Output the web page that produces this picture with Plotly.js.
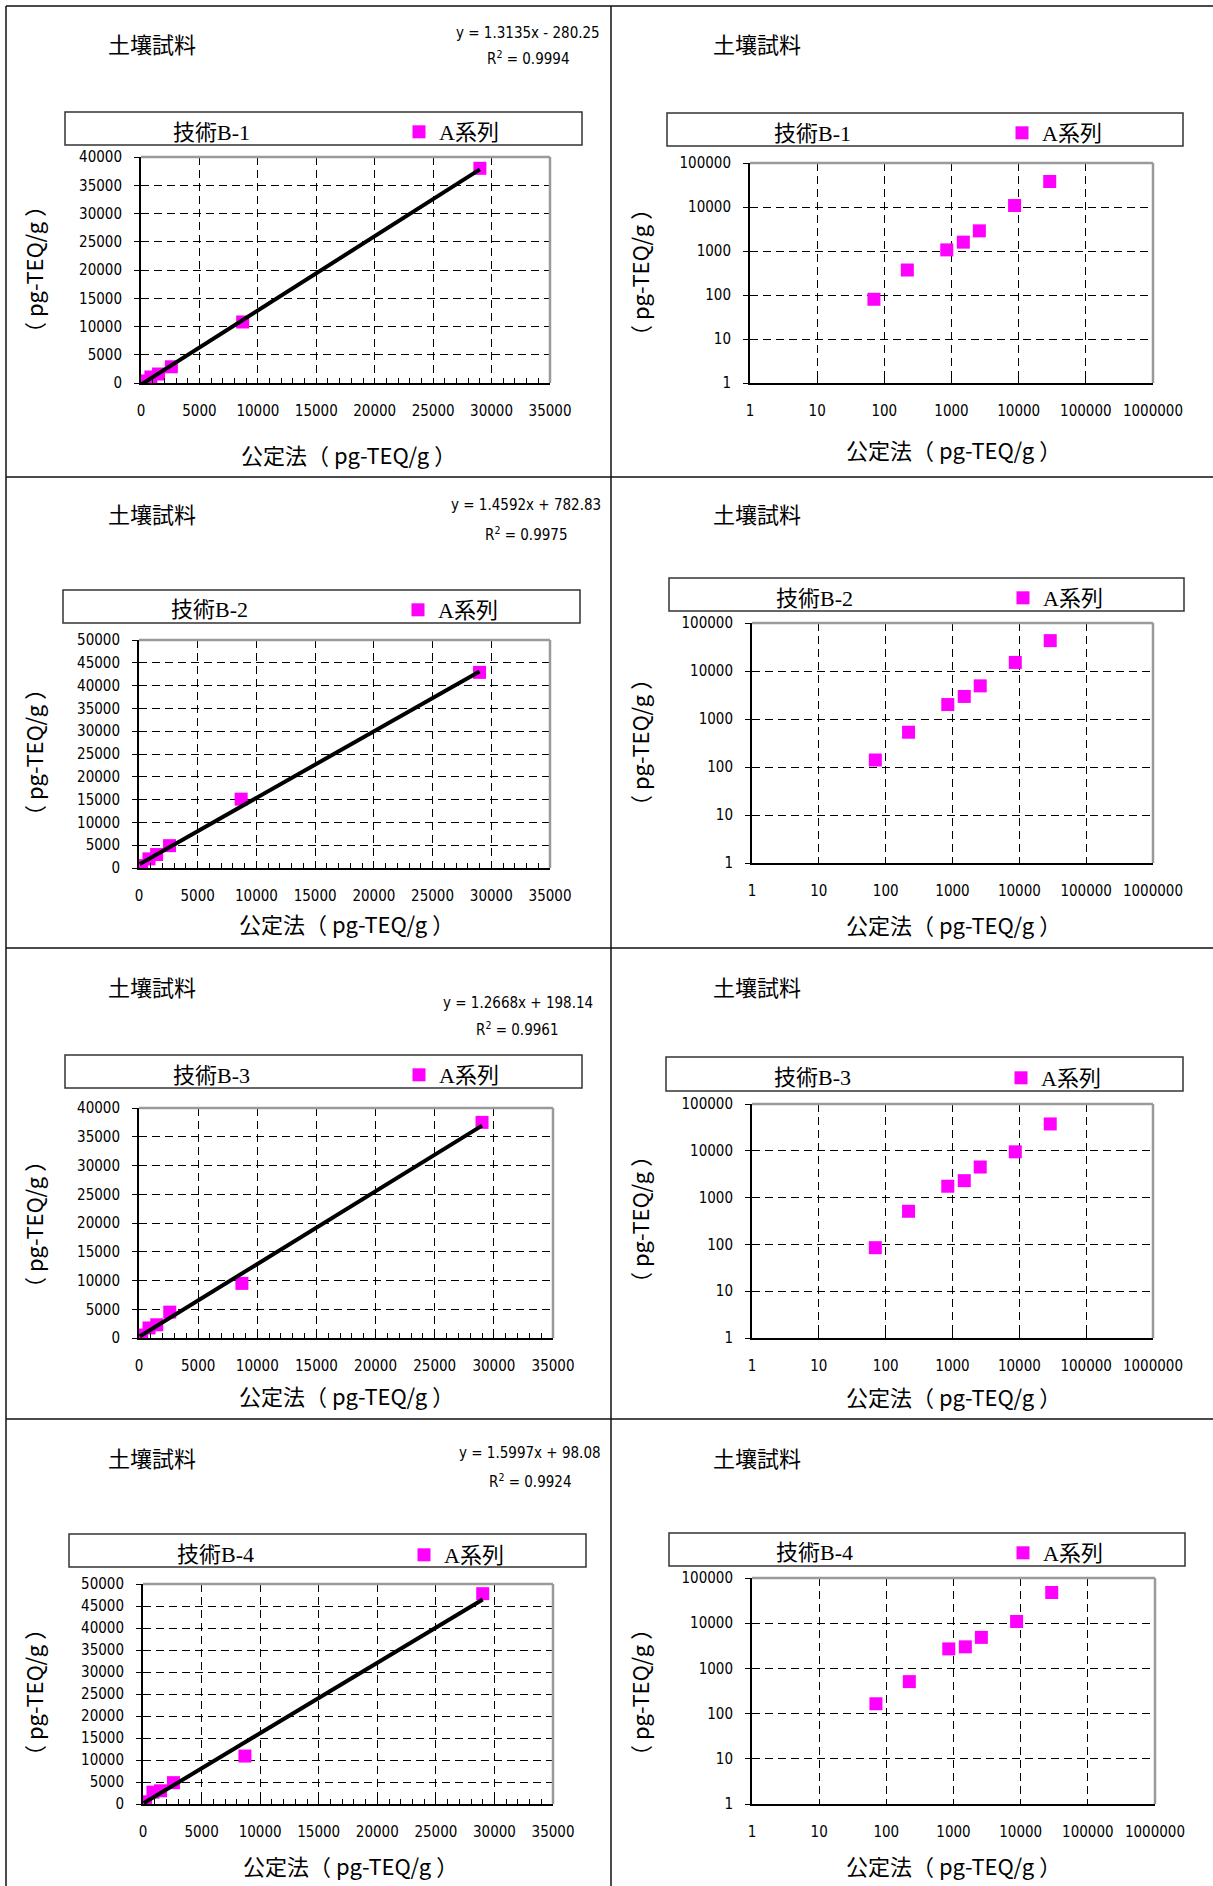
<!DOCTYPE html>
<html><head><meta charset="utf-8">
<script src="https://cdn.plot.ly/plotly-3.0.1.min.js"></script>
<style>html,body{margin:0;padding:0;background:#fff}#chart{width:1213px;height:1886px}</style>
</head><body><div id="chart"></div>
<script>
// ---------------- data ----------------
const techLabels = ['技術B-1', '技術B-2', '技術B-3', '技術B-4'];
const sampleLabel = '土壤試料';
const seriesName = 'A系列';
const xTitleText = '公定法（ pg-TEQ/g ）';
const yTitleText = '（ pg-TEQ/g ）';
const xPublic = [70, 220, 850, 1500, 2600, 8700, 29000];
const yB1 = [80, 370, 1060, 1590, 2870, 10800, 38000];
const yB2 = [140, 530, 2000, 2950, 4900, 15100, 42900];
const yB3 = [85, 510, 1750, 2300, 4500, 9500, 37500];
const yB4 = [165, 510, 2700, 3000, 4850, 10900, 47800];
const slopes = [1.3135, 1.4592, 1.2668, 1.5997];
const intercepts = [-280.25, 782.83, 198.14, 98.08];
const r2Values = ['0.9994', '0.9975', '0.9961', '0.9924'];
const linYMax = [40000, 50000, 40000, 50000];
const linXMax = 35000;
const linTickStep = 5000;
const logXRange = [0, 6];
const logYRange = [0, 5];
const ySeries = [yB1, yB2, yB3, yB4];

// ---------------- layout geometry (pixels) ----------------
const W = 1213, H = 1886;
const G = [
 {plot:[141,550,157,383], samp:[152,43],  eq:[528,33],  r2:[528,58],  box:[65,582,112,145],  tech:[211,132],  mk:[423,132],  xt:[348,454],  yt:[33,270]},
 {plot:[750,1153,163,383], samp:[757,43], box:[667,1183,113,146], tech:[813,133], mk:[1026,133], xt:[953,449], yt:[639,273]},
 {plot:[139,550,640,868], samp:[152,513], eq:[526,505], r2:[526,534], box:[63,580,590,623], tech:[209,610], mk:[422,610], xt:[347,923], yt:[33,753]},
 {plot:[752,1153,623,863], samp:[757,513], box:[669,1184,578,611], tech:[814,598], mk:[1027,598], xt:[953,924], yt:[639,743]},
 {plot:[139,553,1108,1338], samp:[152,986], eq:[518,1003], r2:[517,1029], box:[65,582,1055,1088], tech:[211,1075], mk:[423,1075], xt:[347,1395], yt:[33,1225]},
 {plot:[752,1153,1104,1338], samp:[757,986], box:[666,1183,1057,1091], tech:[812,1077], mk:[1025,1078], xt:[953,1396], yt:[639,1220]},
 {plot:[143,553,1584,1804], samp:[152,1457], eq:[530,1453], r2:[530,1481], box:[69,586,1534,1567], tech:[215,1554], mk:[428,1555], xt:[351,1865], yt:[33,1693]},
 {plot:[752,1155,1578,1804], samp:[757,1457], box:[669,1185,1533,1566], tech:[814,1552], mk:[1027,1553], xt:[953,1865], yt:[639,1693]}
];
const px = x => x / W;
const py = y => 1 - y / H;

const narrow = '"DejaVu Sans Condensed", "Liberation Sans Narrow", sans-serif';
const gothic = '"Noto Sans CJK JP", "Noto Sans", sans-serif';
const serif = '"Liberation Serif", "Noto Sans CJK JP", serif';
const magenta = '#FF00FF';

const traces = [];
const layout = {
  width: W, height: H,
  margin: {l:0, r:0, t:0, b:0},
  paper_bgcolor: '#fff', plot_bgcolor: '#fff',
  showlegend: true,
  annotations: [], shapes: []
};

// outer borders
const bw = 1.5, bc = '#111';
[[6,6,6,H],[6,6,W,6],[611,6,611,H],[6,477,W,477],[6,948,W,948],[6,1419,W,1419]].forEach(s => {
  layout.shapes.push({type:'line', xref:'paper', yref:'paper', x0:px(s[0]), y0:py(s[1]), x1:px(s[2]), y1:py(s[3]), line:{color:bc, width:bw}});
});

for (let i = 0; i < 8; i++) {
  const g = G[i];
  const tech = Math.floor(i / 2);
  const isLog = (i % 2) === 1;
  const n = i + 1;
  const xa = 'xaxis' + (n === 1 ? '' : n), ya = 'yaxis' + (n === 1 ? '' : n);
  const xr = 'x' + (n === 1 ? '' : n), yr = 'y' + (n === 1 ? '' : n);
  const lg = 'legend' + (n === 1 ? '' : n);
  const [L, R, T, B] = g.plot;

  const common = {
    showgrid: true, gridcolor: '#000', gridwidth: 1, griddash: '8px,5px',
    zeroline: false, showline: true, linecolor: '#000', linewidth: 2,
    tickfont: {family: narrow, size: 15, color: '#000'},
    tickformat: 'd', tickcolor: '#000', fixedrange: true
  };
  layout[xa] = Object.assign({}, common, {
    domain: [px(L), px(R)], anchor: yr,
    ticks: 'inside', ticklen: 5, ticklabelstandoff: 13
  });
  layout[ya] = Object.assign({}, common, {
    domain: [py(B), py(T)], anchor: xr,
    ticks: 'outside', ticklen: 5, ticklabelstandoff: 9
  });
  if (isLog) {
    Object.assign(layout[xa], {type: 'log', range: logXRange, dtick: 1});
    Object.assign(layout[ya], {type: 'log', range: logYRange, dtick: 1});
  } else {
    Object.assign(layout[xa], {type: 'linear', range: [0, linXMax], tick0: 0, dtick: linTickStep,
      minor: {ticks: 'inside', ticklen: 5, dtick: 1000, tickcolor: '#000', showgrid: false}});
    Object.assign(layout[ya], {type: 'linear', range: [0, linYMax[tech]], tick0: 0, dtick: linTickStep});
  }

  // gray top/right frame
  layout.shapes.push({type:'line', xref:'paper', yref:'paper', x0:px(L), y0:py(T), x1:px(R), y1:py(T), line:{color:'#9a9a9a', width:2.5}});
  layout.shapes.push({type:'line', xref:'paper', yref:'paper', x0:px(R), y0:py(T), x1:px(R), y1:py(B), line:{color:'#9a9a9a', width:2.5}});
  // legend box
  layout.shapes.push({type:'rect', xref:'paper', yref:'paper', x0:px(g.box[0]), x1:px(g.box[1]), y0:py(g.box[3]), y1:py(g.box[2]), line:{color:'#333', width:1.5}, fillcolor:'rgba(0,0,0,0)'});

  // data markers
  traces.push({
    type: 'scatter', mode: 'markers', x: xPublic, y: ySeries[tech],
    xaxis: xr, yaxis: yr, name: seriesName, legend: lg,
    marker: {symbol: 'square', size: 13, color: magenta, line: {width: 0}},
    hoverinfo: 'x+y'
  });
  // trend line (linear panels)
  if (!isLog) {
    const xs = [Math.min(...xPublic), Math.max(...xPublic)];
    traces.push({
      type: 'scatter', mode: 'lines', x: xs, y: xs.map(v => slopes[tech] * v + intercepts[tech]),
      xaxis: xr, yaxis: yr, showlegend: false, line: {color: '#000', width: 4}, hoverinfo: 'skip'
    });
    const b = intercepts[tech];
    const eq = 'y = ' + slopes[tech] + 'x ' + (b < 0 ? '- ' : '+ ') + Math.abs(b);
    layout.annotations.push({xref:'paper', yref:'paper', x:px(g.eq[0]), y:py(g.eq[1]), text:eq, showarrow:false, xanchor:'center', yanchor:'middle', font:{family:narrow, size:15, color:'#000'}});
    layout.annotations.push({xref:'paper', yref:'paper', x:px(g.r2[0]), y:py(g.r2[1]), text:'R<sup>2</sup> = ' + r2Values[tech], showarrow:false, xanchor:'center', yanchor:'middle', font:{family:narrow, size:15, color:'#000'}});
  }

  layout[lg] = {
    x: px(g.mk[0] - 24), xanchor: 'left', y: py(g.mk[1]), yanchor: 'middle',
    bgcolor: 'rgba(0,0,0,0)', borderwidth: 0, itemwidth: 30,
    font: {family: serif, size: 22, color: '#000'}
  };

  layout.annotations.push({xref:'paper', yref:'paper', x:px(g.samp[0]), y:py(g.samp[1]), text:sampleLabel, showarrow:false, xanchor:'center', yanchor:'middle', font:{family:gothic, size:22, color:'#000'}});
  layout.annotations.push({xref:'paper', yref:'paper', x:px(g.tech[0]), y:py(g.tech[1]), text:techLabels[tech], showarrow:false, xanchor:'center', yanchor:'middle', font:{family:serif, size:22, color:'#000'}});
  layout.annotations.push({xref:'paper', yref:'paper', x:px(g.xt[0]), y:py(g.xt[1]), text:xTitleText, showarrow:false, xanchor:'center', yanchor:'middle', font:{family:gothic, size:22, color:'#000'}});
  layout.annotations.push({xref:'paper', yref:'paper', x:px(g.yt[0]), y:py(g.yt[1]), text:yTitleText, showarrow:false, xanchor:'center', yanchor:'middle', textangle:-90, font:{family:gothic, size:22, color:'#000'}});
}

Plotly.newPlot('chart', traces, layout, {displayModeBar: false, staticPlot: true});
</script>
</body></html>
